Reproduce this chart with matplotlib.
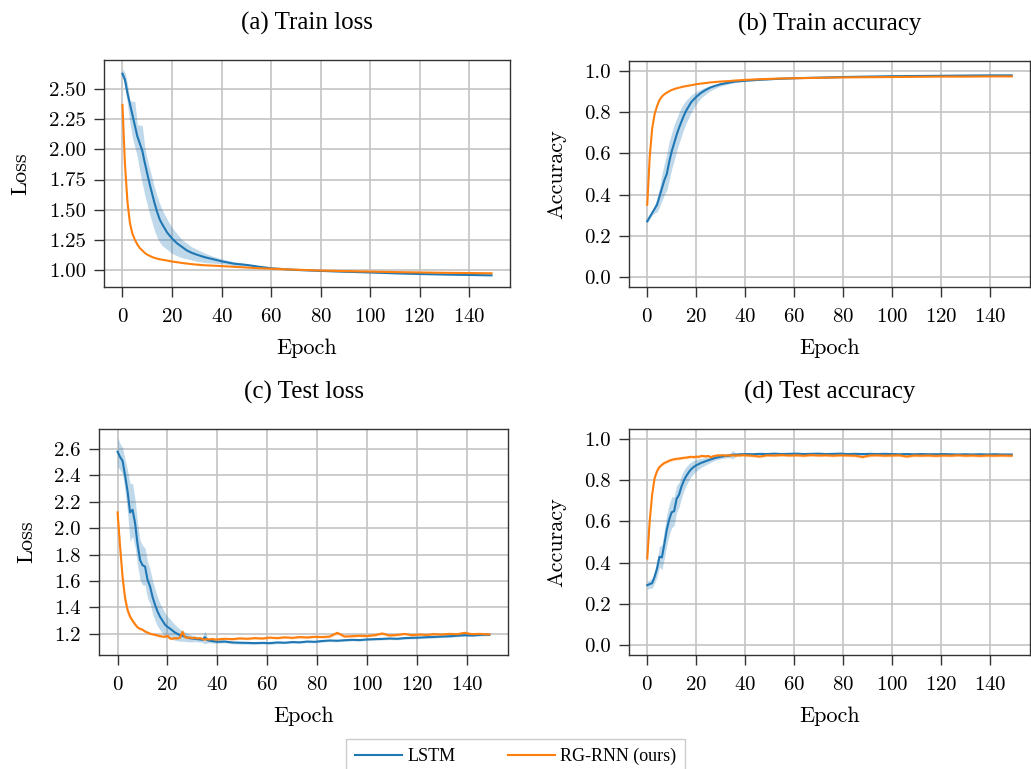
import matplotlib
matplotlib.use("Agg")
import matplotlib.pyplot as plt
import numpy as np

plt.rcParams['font.family'] = 'cmr10'
plt.rcParams['axes.formatter.use_mathtext'] = True
plt.rcParams['mathtext.fontset'] = 'cm'

LSTM_C = '#1f77b4'
RG_C = '#ff7f0e'
TITLE_FONT = 'Liberation Serif'

# ---- training curves (sampled epochs) ----
train_epochs = [0, 1, 2, 3, 4, 5, 6, 7, 8, 9, 10, 11, 12, 13, 14, 15, 16,
                18, 20, 22, 24, 26, 28, 30, 33, 36, 40, 45, 50, 55, 60,
                70, 80, 90, 100, 110, 120, 130, 140, 149]

lstm_train_loss = [2.63, 2.58, 2.47, 2.38, 2.29, 2.20, 2.11, 2.05, 1.99, 1.89, 1.80, 1.71, 1.63, 1.55, 1.48, 1.42, 1.38,
                   1.31, 1.26, 1.22, 1.19, 1.16, 1.14, 1.125, 1.105, 1.09, 1.07, 1.05, 1.04, 1.025, 1.012,
                   0.998, 0.99, 0.983, 0.977, 0.970, 0.964, 0.960, 0.956, 0.953]
lstm_train_loss_hi = [2.67, 2.64, 2.55, 2.41, 2.40, 2.40, 2.21, 2.20, 2.20, 2.02, 1.92, 1.84, 1.76, 1.68, 1.61, 1.55, 1.50,
                      1.42, 1.35, 1.30, 1.25, 1.22, 1.19, 1.17, 1.14, 1.115, 1.09, 1.065, 1.05, 1.032, 1.017,
                      1.002, 0.994, 0.987, 0.981, 0.974, 0.968, 0.964, 0.960, 0.957]
lstm_train_loss_lo = [2.60, 2.53, 2.38, 2.22, 2.10, 2.02, 1.94, 1.82, 1.72, 1.62, 1.54, 1.46, 1.39, 1.32, 1.27, 1.23, 1.20,
                      1.17, 1.135, 1.115, 1.10, 1.09, 1.08, 1.07, 1.06, 1.055, 1.05, 1.035, 1.03, 1.018, 1.007,
                      0.994, 0.986, 0.979, 0.973, 0.966, 0.960, 0.956, 0.952, 0.949]
rg_train_loss = [2.37, 1.88, 1.57, 1.39, 1.30, 1.25, 1.21, 1.18, 1.16, 1.14, 1.125, 1.115, 1.105, 1.098, 1.092, 1.087, 1.083,
                 1.076, 1.068, 1.062, 1.056, 1.051, 1.046, 1.042, 1.037, 1.034, 1.03, 1.024, 1.018, 1.012, 1.008,
                 1.0, 0.993, 0.988, 0.984, 0.980, 0.977, 0.974, 0.972, 0.970]

lstm_train_acc = [0.27, 0.29, 0.31, 0.33, 0.35, 0.39, 0.43, 0.47, 0.50, 0.56, 0.61, 0.65, 0.69, 0.725, 0.755, 0.785, 0.81,
                  0.85, 0.875, 0.895, 0.91, 0.922, 0.93, 0.937, 0.944, 0.95, 0.954, 0.958, 0.961, 0.964, 0.966,
                  0.969, 0.972, 0.974, 0.976, 0.977, 0.978, 0.979, 0.98, 0.98]
lstm_train_acc_hi = [0.28, 0.30, 0.32, 0.35, 0.38, 0.43, 0.50, 0.55, 0.60, 0.66, 0.70, 0.74, 0.77, 0.80, 0.825, 0.845, 0.86,
                     0.885, 0.90, 0.913, 0.923, 0.931, 0.937, 0.943, 0.949, 0.954, 0.958, 0.961, 0.963, 0.966, 0.968,
                     0.971, 0.974, 0.976, 0.978, 0.979, 0.98, 0.981, 0.982, 0.982]
lstm_train_acc_lo = [0.26, 0.28, 0.30, 0.31, 0.315, 0.34, 0.37, 0.40, 0.42, 0.47, 0.525, 0.565, 0.61, 0.65, 0.685, 0.72, 0.75,
                     0.80, 0.84, 0.87, 0.89, 0.907, 0.918, 0.928, 0.937, 0.945, 0.95, 0.955, 0.959, 0.962, 0.964,
                     0.967, 0.97, 0.972, 0.974, 0.975, 0.976, 0.977, 0.978, 0.978]
rg_train_acc = [0.35, 0.58, 0.72, 0.79, 0.83, 0.86, 0.877, 0.888, 0.896, 0.903, 0.909, 0.913, 0.917, 0.92, 0.923, 0.926, 0.928,
                0.932, 0.937, 0.94, 0.943, 0.946, 0.948, 0.95, 0.952, 0.955, 0.958, 0.961, 0.963, 0.965, 0.966,
                0.968, 0.97, 0.971, 0.972, 0.973, 0.974, 0.974, 0.975, 0.975]

# ---- test curves: every epoch up to 39, then every third epoch ----
test_epochs = list(range(40)) + list(range(40, 149, 3)) + [149]

lstm_test_loss = [2.58, 2.54, 2.51, 2.40, 2.28, 2.12, 2.14, 2.04, 1.88, 1.76,
                  1.72, 1.71, 1.61, 1.56, 1.48, 1.42, 1.37, 1.33, 1.30, 1.27,
                  1.253, 1.24, 1.225, 1.21, 1.20, 1.19, 1.185, 1.178, 1.172, 1.167,
                  1.165, 1.163, 1.16, 1.158, 1.155, 1.175, 1.152, 1.148, 1.145, 1.142,
                  1.14, 1.142, 1.135, 1.133, 1.132, 1.13, 1.132, 1.13, 1.135, 1.133,
                  1.138, 1.136, 1.142, 1.14, 1.146, 1.15, 1.148, 1.152, 1.155, 1.153,
                  1.158, 1.16, 1.162, 1.165, 1.163, 1.168, 1.17, 1.172, 1.175, 1.177,
                  1.18, 1.182, 1.186, 1.19, 1.188, 1.192, 1.194, 1.193]
lstm_test_loss_spread = [0.11, 0.10, 0.10, 0.12, 0.16, 0.22, 0.20, 0.18, 0.16, 0.15,
                         0.15, 0.14, 0.14, 0.13, 0.125, 0.12, 0.11, 0.10, 0.095, 0.09,
                         0.08, 0.075, 0.065, 0.06, 0.052, 0.046, 0.04, 0.035, 0.032, 0.028,
                         0.025, 0.022, 0.02, 0.02, 0.02, 0.05, 0.02, 0.015, 0.015, 0.012,
                         0.01, 0.01, 0.01, 0.01, 0.01, 0.009, 0.009, 0.009, 0.009, 0.008,
                         0.008, 0.008, 0.008, 0.008, 0.008, 0.008, 0.008, 0.008, 0.008, 0.008,
                         0.008, 0.008, 0.008, 0.008, 0.008, 0.008, 0.008, 0.008, 0.008, 0.008,
                         0.008, 0.008, 0.008, 0.008, 0.008, 0.008, 0.008, 0.008]
rg_test_loss = [2.12, 1.86, 1.63, 1.47, 1.38, 1.33, 1.30, 1.272, 1.25, 1.238,
                1.232, 1.218, 1.21, 1.202, 1.197, 1.193, 1.188, 1.183, 1.18, 1.178,
                1.186, 1.165, 1.163, 1.168, 1.166, 1.172, 1.215, 1.175, 1.17, 1.172,
                1.168, 1.17, 1.165, 1.168, 1.16, 1.157, 1.16, 1.158, 1.162, 1.157,
                1.158, 1.163, 1.16, 1.166, 1.163, 1.168, 1.165, 1.172, 1.168, 1.174,
                1.17, 1.176, 1.173, 1.178, 1.176, 1.18, 1.208, 1.18, 1.183, 1.186,
                1.184, 1.19, 1.203, 1.188, 1.192, 1.20, 1.19, 1.195, 1.192, 1.198,
                1.195, 1.20, 1.197, 1.208, 1.198, 1.20, 1.197, 1.196]
rg_test_loss_spread = [0.05, 0.04, 0.03, 0.03, 0.03, 0.02, 0.015, 0.012, 0.01, 0.01,
                       0.008, 0.008, 0.008, 0.008, 0.008, 0.008, 0.008, 0.008, 0.008, 0.008,
                       0.01, 0.008, 0.008, 0.008, 0.008, 0.008, 0.02, 0.008, 0.008, 0.008,
                       0.008, 0.008, 0.008, 0.008, 0.008, 0.008, 0.008, 0.008, 0.008, 0.008,
                       0.008, 0.008, 0.008, 0.008, 0.008, 0.008, 0.008, 0.008, 0.008, 0.008,
                       0.008, 0.008, 0.008, 0.008, 0.008, 0.008, 0.012, 0.008, 0.008, 0.008,
                       0.008, 0.008, 0.01, 0.008, 0.008, 0.008, 0.008, 0.008, 0.008, 0.008,
                       0.008, 0.008, 0.008, 0.012, 0.008, 0.008, 0.008, 0.008]

lstm_test_acc = [0.29, 0.295, 0.30, 0.33, 0.37, 0.428, 0.425, 0.49, 0.56, 0.61,
                 0.645, 0.65, 0.71, 0.73, 0.77, 0.80, 0.822, 0.84, 0.855, 0.865,
                 0.873, 0.879, 0.885, 0.889, 0.894, 0.898, 0.902, 0.906, 0.91, 0.912,
                 0.915, 0.917, 0.919, 0.92, 0.922, 0.925, 0.925, 0.926, 0.927, 0.927,
                 0.928, 0.927, 0.929, 0.928, 0.93, 0.928, 0.929, 0.93, 0.928, 0.929,
                 0.93, 0.928, 0.929, 0.93, 0.928, 0.929, 0.928, 0.929, 0.928, 0.929,
                 0.928, 0.927, 0.928, 0.927, 0.928, 0.927, 0.927, 0.928, 0.927, 0.926,
                 0.927, 0.926, 0.927, 0.926, 0.927, 0.926, 0.926, 0.926]
lstm_test_acc_spread = [0.02, 0.02, 0.025, 0.03, 0.04, 0.05, 0.06, 0.07, 0.075, 0.075,
                        0.075, 0.07, 0.065, 0.06, 0.055, 0.05, 0.045, 0.04, 0.035, 0.032,
                        0.028, 0.026, 0.022, 0.02, 0.018, 0.016, 0.014, 0.012, 0.011, 0.01,
                        0.01, 0.01, 0.01, 0.01, 0.012, 0.02, 0.008, 0.007, 0.006, 0.006,
                        0.005, 0.005, 0.005, 0.005, 0.005, 0.005, 0.005, 0.005, 0.005, 0.005,
                        0.005, 0.005, 0.005, 0.005, 0.005, 0.005, 0.005, 0.005, 0.005, 0.005,
                        0.005, 0.005, 0.005, 0.005, 0.005, 0.005, 0.005, 0.005, 0.005, 0.005,
                        0.005, 0.005, 0.005, 0.005, 0.005, 0.005, 0.005, 0.005]
rg_test_acc = [0.42, 0.60, 0.73, 0.81, 0.845, 0.865, 0.876, 0.885, 0.89, 0.896,
               0.90, 0.903, 0.905, 0.906, 0.908, 0.91, 0.911, 0.913, 0.915, 0.913,
               0.916, 0.914, 0.919, 0.918, 0.917, 0.919, 0.912, 0.918, 0.92, 0.922,
               0.921, 0.923, 0.92, 0.922, 0.921, 0.923, 0.92, 0.922, 0.921, 0.923,
               0.922, 0.92, 0.916, 0.922, 0.921, 0.923, 0.921, 0.922, 0.92, 0.923,
               0.921, 0.922, 0.92, 0.922, 0.921, 0.92, 0.914, 0.921, 0.922, 0.92,
               0.921, 0.922, 0.916, 0.921, 0.92, 0.921, 0.919, 0.921, 0.92, 0.922,
               0.92, 0.921, 0.919, 0.921, 0.92, 0.921, 0.92, 0.92]
rg_test_acc_spread = [0.02, 0.015] + [0.006] * 76


def draw(ax, x, mean, lo, hi, color):
    ax.fill_between(x, lo, hi, color=color, alpha=0.28, lw=0)
    return ax.plot(x, mean, color=color, lw=1.5)[0]


def style(ax, title, ylabel, ylim, yticks, fmt):
    ax.set_title(title, family=TITLE_FONT, fontsize=18, pad=22)
    ax.set_xlabel('Epoch', fontsize=16, labelpad=9)
    ax.set_ylabel(ylabel, fontsize=16, labelpad=13)
    ax.set_xlim(-7.45, 156.45)
    ax.set_ylim(*ylim)
    ax.set_xticks(np.arange(0, 141, 20))
    ax.set_yticks(yticks)
    ax.set_yticklabels([fmt.format(t) for t in yticks])
    ax.tick_params(labelsize=15, direction='out', length=7, width=1,
                   pad=6, color='#333333')
    ax.tick_params(axis='x', pad=8)
    ax.grid(True, color='#c4c4c4', lw=1.2)
    ax.set_axisbelow(True)
    for s in ax.spines.values():
        s.set_color('#333333')
        s.set_linewidth(1.0)


fig = plt.figure(figsize=(10.31, 7.69), dpi=100)
W, H = 1031, 769


def box(l, t, r, b):
    return [l / W, 1 - b / H, (r - l) / W, (b - t) / H]


ax_a = fig.add_axes(box(104, 60, 510, 287))
ax_b = fig.add_axes(box(629, 61, 1030, 287))
ax_c = fig.add_axes(box(99, 429, 508, 655))
ax_d = fig.add_axes(box(629, 429, 1030, 655))

# (a) train loss
h_lstm = draw(ax_a, train_epochs, lstm_train_loss, lstm_train_loss_lo, lstm_train_loss_hi, LSTM_C)
h_rg = ax_a.plot(train_epochs, rg_train_loss, color=RG_C, lw=1.5)[0]
style(ax_a, '(a) Train loss', 'Loss', (0.856, 2.744),
      [1.00, 1.25, 1.50, 1.75, 2.00, 2.25, 2.50], '{:.2f}')

# (b) train accuracy
draw(ax_b, train_epochs, lstm_train_acc, lstm_train_acc_lo, lstm_train_acc_hi, LSTM_C)
ax_b.plot(train_epochs, rg_train_acc, color=RG_C, lw=1.5)
style(ax_b, '(b) Train accuracy', 'Accuracy', (-0.05, 1.05),
      [0.0, 0.2, 0.4, 0.6, 0.8, 1.0], '{:.1f}')

# (c) test loss
m = np.array(lstm_test_loss)
s = np.array(lstm_test_loss_spread)
draw(ax_c, test_epochs, m, m - s, m + s, LSTM_C)
m = np.array(rg_test_loss)
s = np.array(rg_test_loss_spread)
draw(ax_c, test_epochs, m, m - s, m + s, RG_C)
style(ax_c, '(c) Test loss', 'Loss', (1.04, 2.752),
      [1.2, 1.4, 1.6, 1.8, 2.0, 2.2, 2.4, 2.6], '{:.1f}')

# (d) test accuracy
m = np.array(lstm_test_acc)
s = np.array(lstm_test_acc_spread)
draw(ax_d, test_epochs, m, m - s, m + s, LSTM_C)
m = np.array(rg_test_acc)
s = np.array(rg_test_acc_spread)
draw(ax_d, test_epochs, m, m - s, m + s, RG_C)
style(ax_d, '(d) Test accuracy', 'Accuracy', (-0.05, 1.05),
      [0.0, 0.2, 0.4, 0.6, 0.8, 1.0], '{:.1f}')

fig.legend([h_lstm, h_rg], ['LSTM', 'RG-RNN (ours)'], loc='upper center',
           bbox_to_anchor=(0.5, 1 - 739 / H), borderaxespad=0, ncol=2,
           fancybox=False, edgecolor='#cccccc', framealpha=1,
           handlelength=2.6, handletextpad=0.3, columnspacing=2.9,
           borderpad=0.5, prop={'family': TITLE_FONT, 'size': 13})

fig.savefig('out.png', dpi=100)
